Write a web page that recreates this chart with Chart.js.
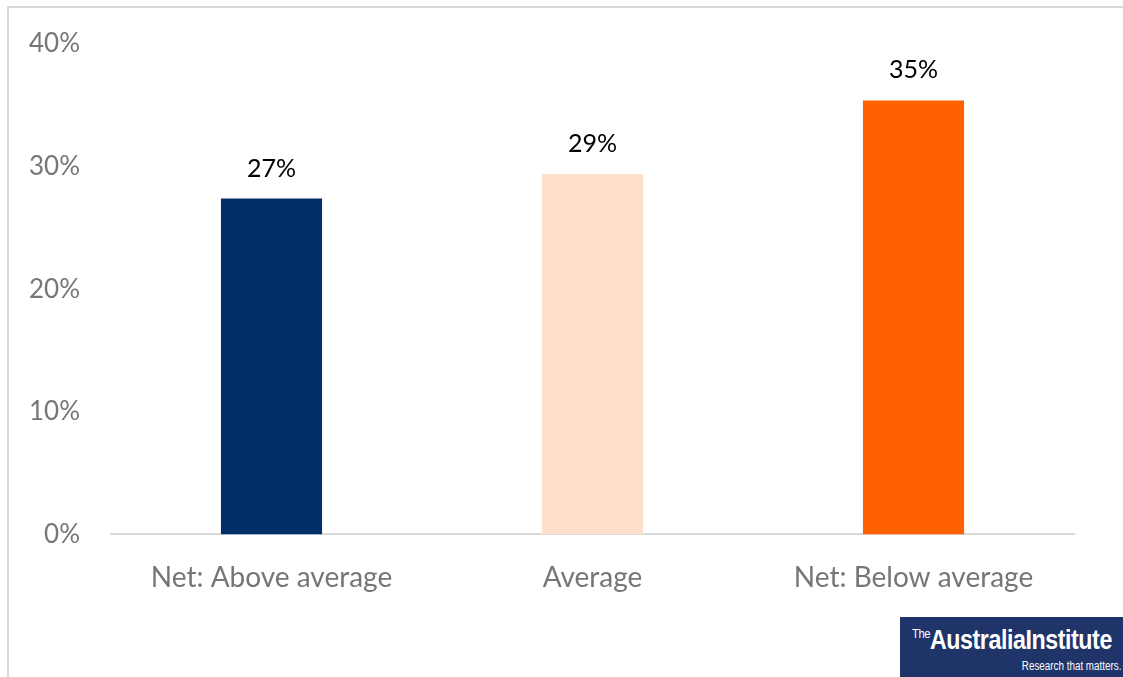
<!DOCTYPE html>
<html>
<head>
<meta charset="utf-8">
<script src="https://cdn.jsdelivr.net/npm/chart.js@4/dist/chart.umd.min.js"></script>
<style>
    body { margin: 0; background: #fff; }
    #wrap { position: relative; width: 1123px; height: 677px; overflow: hidden; }
    #frame { position: absolute; left: 7px; top: 6px; width: 1200px; height: 700px;
             border-left: 2px solid #d9d9d9; border-top: 2px solid #d9d9d9; }
    #logo { position: absolute; left: 900px; top: 617px; width: 223px; height: 60px;
            background: #1f3468; color: #fff; font-family: 'Liberation Sans', sans-serif; }
    #logo .name { position: absolute; left: 12px; top: 8px; font-size: 27px; font-weight: bold;
                  white-space: nowrap; transform: scaleX(0.86); transform-origin: left top; letter-spacing: -0.5px; }
    #logo .name sup { font-size: 13px; vertical-align: 11px; font-weight: normal; }
    #logo .tag { position: absolute; right: 2px; top: 42px; font-size: 12px; white-space: nowrap;
                 transform: scaleX(0.82); transform-origin: right top; }
    canvas { position: absolute; left: 0; top: 0; }
</style>
</head>
<body>
<div id="wrap">
    <div id="frame"></div>
    <canvas id="chart" width="1123" height="677"></canvas>
    <div id="logo"><span class="name"><sup>The</sup>AustraliaInstitute</span><span class="tag">Research that matters.</span></div>
</div>
<script>
const categories = ['Net: Above average', 'Average', 'Net: Below average'];
const values = [27.4, 29.4, 35.4];
const barColors = ['#002f67', '#fddfcc', '#ff6000'];
const yTicks = [0, 10, 20, 30, 40];

const fontFamily = "Lato, 'Open Sans', sans-serif";

// Value labels above each bar
const valueLabels = {
    id: 'valueLabels',
    afterDatasetsDraw(chart) {
        const ctx = chart.ctx;
        const meta = chart.getDatasetMeta(0);
        ctx.save();
        ctx.fillStyle = '#000';
        ctx.font = "25px " + fontFamily;
        ctx.textAlign = 'center';
        ctx.textBaseline = 'middle';
        meta.data.forEach((bar, i) => {
            ctx.fillText(Math.round(values[i]) + '%', bar.x, bar.y - 30);
        });
        ctx.restore();
    }
};

new Chart(document.getElementById('chart').getContext('2d'), {
    type: 'bar',
    data: {
        labels: categories,
        datasets: [{
            data: values,
            backgroundColor: barColors,
            barPercentage: 0.315,
            categoryPercentage: 1
        }]
    },
    options: {
        responsive: false,
        animation: false,
        layout: { padding: { left: 0, right: 49, top: 36, bottom: 63 } },
        plugins: { legend: { display: false }, tooltip: { enabled: false } },
        scales: {
            x: {
                grid: { display: false },
                border: { display: true, color: '#d9d9d9', width: 2 },
                ticks: { color: '#767676', font: { size: 28, family: fontFamily }, padding: 19 }
            },
            y: {
                min: 0,
                max: 40,
                afterFit: (scale) => { scale.width = 111; },
                afterBuildTicks: (scale) => { scale.ticks = yTicks.map(v => ({ value: v })); },
                grid: { display: false, drawTicks: false },
                border: { display: false },
                ticks: {
                    color: '#767676',
                    font: { size: 26, family: fontFamily, lineHeight: 1 },
                    padding: 31,
                    callback: (v) => v + '%'
                }
            }
        }
    },
    plugins: [valueLabels]
});
</script>
</body>
</html>
